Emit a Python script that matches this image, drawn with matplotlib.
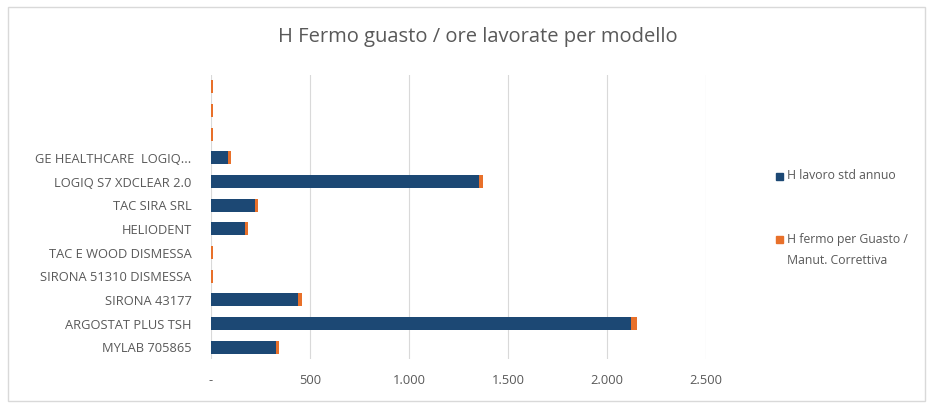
import matplotlib.pyplot as plt
import matplotlib.patches as mpatches
from matplotlib.ticker import FuncFormatter

# categories from bottom to top
modelli = [
    "MYLAB 705865",
    "ARGOSTAT PLUS TSH",
    "SIRONA 43177",
    "SIRONA 51310 DISMESSA",
    "TAC E WOOD DISMESSA",
    "HELIODENT",
    "TAC SIRA SRL",
    "LOGIQ S7 XDCLEAR 2.0",
    "GE HEALTHCARE  LOGIQ...",
    "",
    "",
    "",
]
h_lavoro = [330, 2120, 440, 0, 0, 170, 220, 1355, 85, 0, 0, 0]
h_fermo = [15, 30, 20, 10, 10, 15, 15, 18, 18, 10, 10, 10]
serie = ["H lavoro std annuo", "H fermo per Guasto /\nManut. Correttiva"]

BLUE = "#1c4874"
ORANGE = "#e8702a"
GREY = "#595959"

plt.rcParams['font.family'] = ['Open Sans', 'DejaVu Sans']

W, H = 932, 405
fig = plt.figure(figsize=(W / 100, H / 100), dpi=100)
ax = fig.add_axes([0.2264, 0.1136, 0.531, 0.701])

y = range(len(modelli))
ax.barh(y, h_lavoro, height=0.55, color=BLUE, zorder=3)
ax.barh(y, h_fermo, left=h_lavoro, height=0.55, color=ORANGE, zorder=3)

ax.set_xlim(0, 2500)
ax.set_ylim(-0.5, len(modelli) - 0.5)
ax.set_xticks([0, 500, 1000, 1500, 2000, 2500])
ax.xaxis.set_major_formatter(FuncFormatter(
    lambda v, p: "-" if v == 0 else f"{int(v):,}".replace(",", ".")))
ax.set_yticks(list(y))
ax.set_yticklabels(modelli)
ax.tick_params(axis='both', length=0, colors=GREY, labelsize=9.3)
ax.tick_params(axis='x', pad=11)
ax.tick_params(axis='y', pad=14)
ax.grid(axis='x', color='#d9d9d9', linewidth=0.8, zorder=0)
for s in ax.spines.values():
    s.set_visible(False)

fig.text(0.513, 0.908, "H Fermo guasto / ore lavorate per modello",
         ha='center', va='center', fontsize=14.5, color=GREY)

# legend, handle aligned with first text line as in the original
for colore, testo, ypix in zip([BLUE, ORANGE], serie, [176, 240]):
    fig.patches.append(mpatches.Rectangle((776 / W, 1 - (ypix + 3.5) / H), 7 / W, 7 / H,
                                          transform=fig.transFigure,
                                          color=colore))
    fig.text(787 / W, 1 - (ypix - 7) / H, testo, ha='left', va='top',
             fontsize=8.8, color=GREY, linespacing=1.75)

# chart border
fig.patches.append(mpatches.Rectangle((8 / W, 4 / H), 917 / W, 394 / H,
                                      transform=fig.transFigure, fill=False,
                                      edgecolor='#d9d9d9', linewidth=1))

fig.savefig("out.png", dpi=100)
